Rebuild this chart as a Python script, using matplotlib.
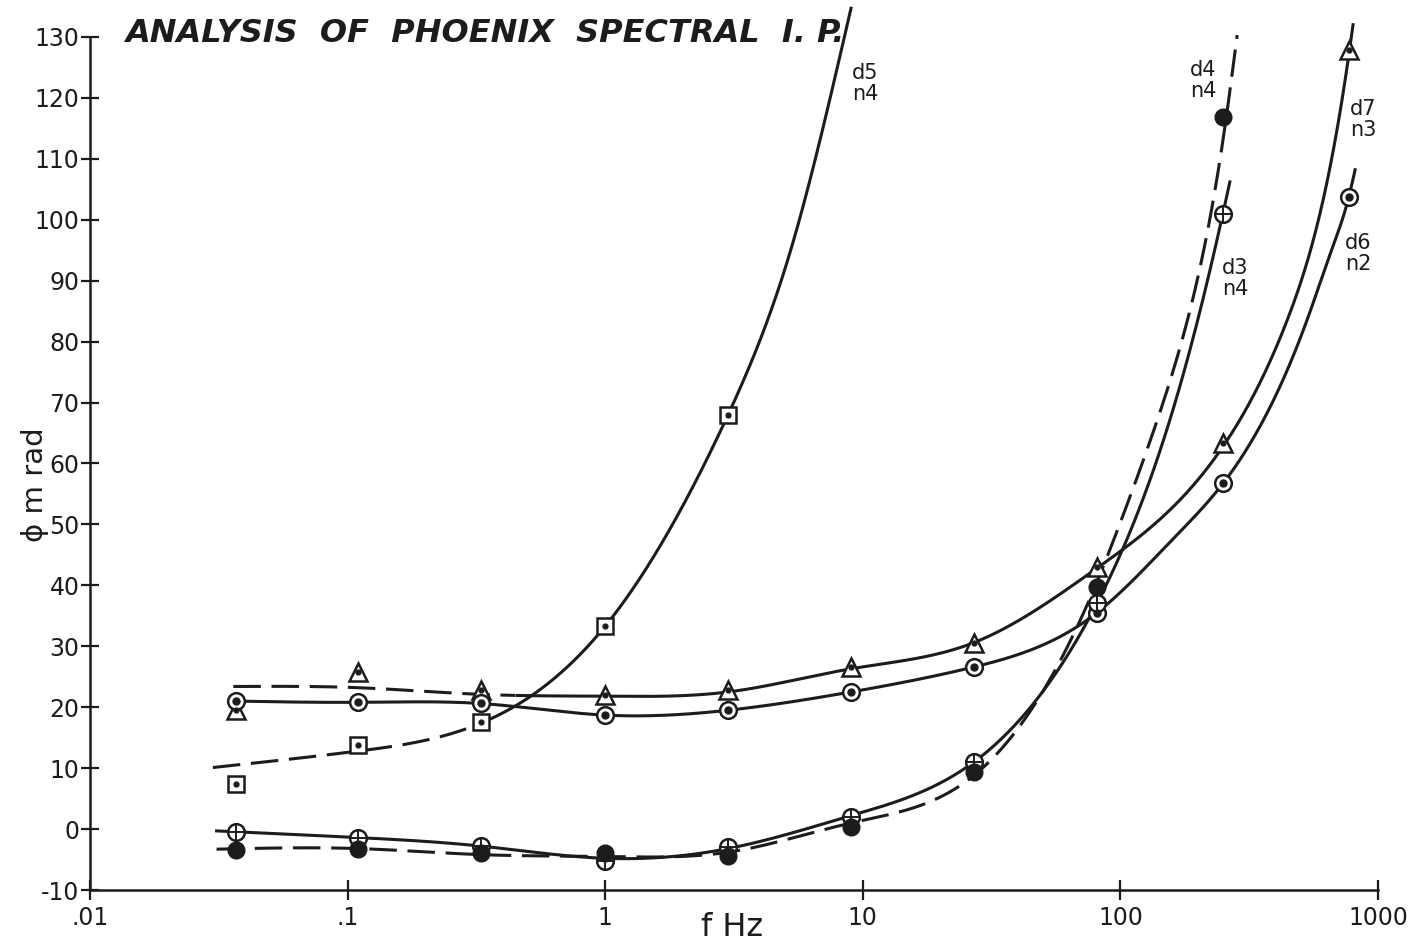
import numpy as np
import matplotlib
matplotlib.use("Agg")
import matplotlib.pyplot as plt

# measured points (frequency in Hz, phase in mrad)
f_pts = [0.037, 0.11, 0.33, 1, 3, 9, 27, 81, 250, 775]
d5_sq = [7.4, 13.8, 17.6, 33.3, 68.0]
d7_tri = [19.5, 25.8, 22.8, 22.0, 22.8, 26.6, 30.5, 43.0, 63.3, 127.8]
d6_circ = [21.0, 20.8, 20.7, 18.7, 19.5, 22.5, 26.6, 35.4, 56.8, 103.7]
d3_plus = [-0.5, -1.4, -2.8, -5.3, -2.9, 2.0, 11.0, 37.1, 101.0]
d4_fill = [-3.4, -3.2, -4.0, -4.0, -4.5, 0.4, 9.4, 39.8, 116.9]

# hand drawn curves
d5_cf = [0.03, 0.11, 0.33, 1, 3, 5.3, 9.0]
d5_cy = [10.1, 12.8, 17.4, 33.3, 68.0, 95.6, 134.7]
d7_cf = [0.036, 0.11, 0.33, 1, 3, 9, 27, 81, 255, 444, 612, 775, 800]
d7_cy = [23.4, 23.2, 22.1, 21.8, 22.5, 26.3, 30.6, 42.8, 63.3, 83.5, 103.2, 127.8, 132.0]
d6_cf = [0.037, 0.11, 0.33, 1, 3, 9, 27, 81, 160, 250, 530, 668, 770, 815]
d6_cy = [21.0, 20.8, 20.6, 18.7, 19.5, 22.5, 26.6, 35.5, 47.6, 56.7, 83.5, 95.6, 103.7, 108.2]
d3_cf = [0.031, 0.11, 0.33, 1, 3, 9, 27, 81, 170, 250, 266]
d3_cy = [-0.3, -1.4, -2.8, -4.8, -3.2, 2.2, 11.0, 37.0, 72.6, 101.0, 106.2]
d4_cf = [0.031, 0.11, 0.33, 1, 3, 9, 27, 81, 102, 139, 175, 258, 284]
d4_cy = [-3.3, -3.2, -4.2, -4.5, -3.8, 1.0, 8.8, 40.5, 51.3, 67.1, 80.8, 117.0, 130.3]

y_ticks = list(range(-10, 131, 10))
x_ticks = [0.01, 0.1, 1, 10, 100, 1000]
x_labels = ['.01', '.1', '1', '10', '100', '1000']

K = '#1c1c1c'
LW = 2.2


def spline(x, y, xs):
    # natural cubic spline
    x = np.asarray(x, float)
    y = np.asarray(y, float)
    n = len(x)
    h = np.diff(x)
    A = np.zeros((n, n))
    b = np.zeros(n)
    A[0, 0] = A[-1, -1] = 1
    for i in range(1, n - 1):
        A[i, i - 1] = h[i - 1]
        A[i, i] = 2 * (h[i - 1] + h[i])
        A[i, i + 1] = h[i]
        b[i] = 3 * ((y[i + 1] - y[i]) / h[i] - (y[i] - y[i - 1]) / h[i - 1])
    c = np.linalg.solve(A, b)
    bc = (y[1:] - y[:-1]) / h - h * (2 * c[:-1] + c[1:]) / 3
    dc = (c[1:] - c[:-1]) / (3 * h)
    k = np.clip(np.searchsorted(x, xs) - 1, 0, n - 2)
    dx = xs - x[k]
    return y[k] + bc[k] * dx + c[k] * dx**2 + dc[k] * dx**3


def curve(ax, cf, cy, dash_until=None, all_dashed=False):
    lx = np.log10(cf)
    xs = np.linspace(lx[0], lx[-1], 600)
    ys = spline(lx, cy, xs)
    fx = 10 ** xs
    if all_dashed:
        ax.plot(fx, ys, color=K, lw=LW, dashes=(9, 3.5), zorder=2)
        return
    if dash_until is None:
        ax.plot(fx, ys, color=K, lw=LW, zorder=2)
        return
    a = fx <= dash_until
    ax.plot(fx[a], ys[a], color=K, lw=LW, dashes=(9, 3.5), zorder=2)
    ax.plot(fx[~a], ys[~a], color=K, lw=LW, zorder=2)


fig = plt.figure(figsize=(14.16, 9.44), dpi=100)
ax = fig.add_axes([90 / 1416, 54 / 944, 1288 / 1416, 886 / 944])
ax.set_xscale('log')
ax.set_xlim(0.01, 1000)
ax.set_ylim(-10, 135.4)

curve(ax, d5_cf, d5_cy, dash_until=0.33)
curve(ax, d7_cf, d7_cy, dash_until=0.45)
curve(ax, d6_cf, d6_cy)
curve(ax, d3_cf, d3_cy)
curve(ax, d4_cf, d4_cy, all_dashed=True)

n5 = len(d5_sq)
ax.plot(f_pts[:n5], d5_sq, 's', ms=11, mfc='white', mec=K, mew=1.8, zorder=3)
ax.plot(f_pts[:n5], d5_sq, 'o', ms=3.5, color=K, zorder=4)
ax.plot(f_pts, d7_tri, '^', ms=13, mfc='white', mec=K, mew=1.8, zorder=3)
ax.plot(f_pts, d7_tri, 'o', ms=3.5, color=K, zorder=4)
ax.plot(f_pts, d6_circ, 'o', ms=12, mfc='white', mec=K, mew=1.8, zorder=3)
ax.plot(f_pts, d6_circ, 'o', ms=5, color=K, zorder=4)
n3 = len(d3_plus)
ax.plot(f_pts[:n3], d3_plus, 'o', ms=12, mfc='white', mec=K, mew=1.8, zorder=3)
ax.plot(f_pts[:n3], d3_plus, '+', ms=11, color=K, mew=1.4, zorder=4)
ax.plot(f_pts[:len(d4_fill)], d4_fill, 'o', ms=12, color=K, zorder=3)

# axes styling
for s in ['top', 'right']:
    ax.spines[s].set_visible(False)
ax.spines['left'].set_bounds(-10, 130)
for s in ['left', 'bottom']:
    ax.spines[s].set_linewidth(1.8)
    ax.spines[s].set_color(K)
ax.set_yticks(y_ticks)
ax.set_yticklabels([str(v) for v in y_ticks])
ax.set_xticks(x_ticks)
ax.set_xticklabels(x_labels)
ax.xaxis.set_minor_locator(matplotlib.ticker.NullLocator())
ax.tick_params(axis='y', direction='inout', length=13, width=1.6, pad=1,
               labelsize=17, colors=K)
ax.tick_params(axis='x', direction='inout', length=15, width=1.6, pad=4,
               labelsize=17, colors=K)

fig.text(732 / 1416, 1 - 927 / 944, 'f Hz', fontsize=23, color=K,
         ha='center', va='center')
fig.text(35 / 1416, 1 - 485 / 944, 'ϕ m rad', fontsize=21, color=K,
         rotation=90, ha='center', va='center')

fig.text(125 / 1416, 1 - 34 / 944, 'ANALYSIS  OF  PHOENIX  SPECTRAL  I. P.',
         fontsize=23, fontstyle='italic', fontweight='bold', color=K,
         ha='left', va='center')

labels = [('d5\nn4', 9.08, 122.4), ('d4\nn4', 186, 122.9), ('d7\nn3', 778, 116.4),
          ('d3\nn4', 248, 90.4), ('d6\nn2', 745, 94.4)]
for txt, x, y in labels:
    ax.text(x, y, txt, fontsize=15, color=K, ha='left', va='center', linespacing=1.05)

fig.savefig('out.png', dpi=100, facecolor='white')
